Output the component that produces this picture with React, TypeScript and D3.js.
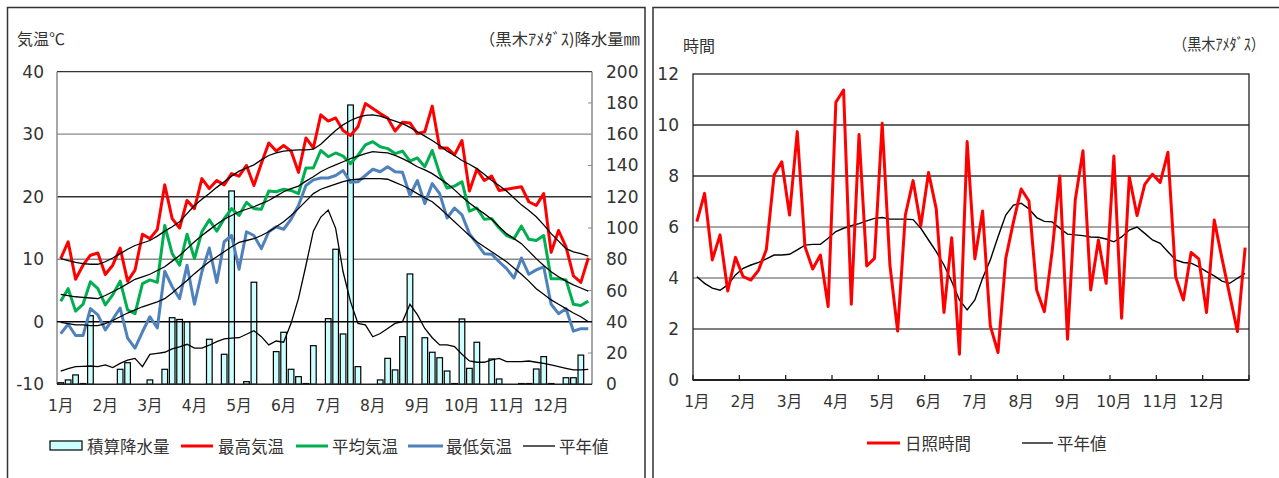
import React from "react";
import * as d3 from "d3";

const months = ["1月","2月","3月","4月","5月","6月","7月","8月","9月","10月","11月","12月"];
const pentads = d3.range(72);

const maxTemp = [10.1,12.8,6.8,9.05,10.65,11.0,7.56,9.05,11.8,6.5,8.25,14.0,13.3,14.75,21.9,16.5,15.0,19.4,18.1,22.9,21.3,22.6,21.9,23.7,23.3,25.0,21.8,25.3,28.6,27.3,28.2,27.3,23.9,29.4,27.8,33.1,32.1,32.6,30.6,29.8,31.2,34.9,34.1,33.3,32.6,30.5,31.9,31.8,30.1,30.4,34.5,27.8,27.8,26.7,29.0,20.9,24.4,22.6,23.3,21.0,21.2,21.4,21.6,19.2,18.6,20.5,11.1,14.6,12.0,7.35,6.3,10.2];
const meanTemp = [3.3,5.3,1.7,2.8,6.4,5.3,2.7,4.3,6.5,1.9,1.3,6.1,6.7,6.3,15.4,10.9,9.05,14.0,10.1,14.4,16.3,14.5,16.5,18.1,17.0,19.1,18.1,18.0,20.9,20.8,21.2,21.0,20.5,24.6,24.6,27.4,26.4,27.0,26.5,25.3,26.6,28.3,28.8,28.0,27.7,26.9,27.3,25.7,26.2,24.8,27.4,23.7,21.4,21.7,22.4,17.7,18.2,16.4,16.5,15.0,13.8,13.3,15.3,13.2,13.0,13.8,6.9,6.9,6.7,2.8,2.6,3.3];
const minTemp = [-1.9,-0.4,-2.2,-2.2,2.1,1.1,-1.3,0.4,2.2,-2.6,-4.2,-1.6,0.8,-1.0,8.1,5.6,3.7,9.05,2.8,8.0,11.8,6.3,12.8,13.8,8.4,14.4,13.8,11.7,14.4,15.2,14.8,16.4,18.6,21.8,22.7,23.0,23.0,23.4,24.2,22.3,22.4,23.4,24.4,24.0,24.8,24.0,23.9,20.2,22.6,18.9,22.1,20.5,16.6,18.2,17.1,14.1,12.5,10.9,10.8,9.6,8.5,7.0,10.2,7.6,8.3,8.8,2.8,1.3,2.1,-1.5,-1.1,-1.1];
const normalMax = [10.1,9.8,9.5,9.3,9.2,9.2,9.6,10.2,10.9,11.6,12.2,12.6,13.0,13.7,14.5,15.2,16.0,17.3,18.6,19.6,20.5,21.5,22.4,23.3,24.1,24.6,25.1,25.9,26.6,27.0,27.3,27.4,27.5,27.5,27.6,28.4,29.5,30.6,31.5,32.2,32.7,33.0,33.1,32.9,32.5,32.1,31.7,31.1,30.4,29.7,29.0,28.2,27.3,26.6,25.8,25.2,24.5,23.6,22.6,21.8,20.9,19.8,18.7,17.8,16.8,15.5,14.1,12.9,11.7,11.2,10.9,10.5];
const normalMean = [4.4,4.2,4.0,3.9,3.8,3.7,4.2,4.8,5.4,6.1,6.8,7.2,7.6,8.2,8.8,9.7,10.6,11.7,12.8,13.8,14.7,15.6,16.4,17.0,17.6,18.0,18.4,18.9,19.4,20.1,20.8,21.3,21.7,22.5,23.2,24.0,24.6,25.1,25.6,26.1,26.5,26.9,27.2,27.1,27.0,26.6,26.1,25.5,24.8,24.3,23.7,22.9,22.1,21.1,20.0,19.0,18.1,17.3,16.4,15.2,14.1,13.3,12.5,11.3,10.1,9.0,8.0,7.2,6.5,5.9,5.4,4.9];
const normalMin = [-0.1,-0.3,-0.5,-0.5,-0.6,-0.6,-0.3,0.2,0.8,1.4,1.9,2.4,2.8,3.2,3.7,4.6,5.6,6.6,7.7,8.7,9.6,10.4,11.2,12.0,12.7,13.0,13.3,13.8,14.4,15.2,16.0,17.0,18.1,19.3,20.5,21.2,21.6,22.0,22.4,22.7,22.8,22.9,22.9,22.9,22.8,22.3,21.8,21.2,20.5,19.8,19.2,18.2,17.1,16.0,14.9,13.8,12.8,12.0,11.2,10.4,9.6,8.6,7.6,6.5,5.3,4.4,3.5,2.8,2.1,1.4,0.8,0.0];
const precip = [1,2.8,6.0,0.5,43.9,0,0,0,9.6,13.8,0,0,2.8,0,9.6,42.6,41.5,40.1,0,0,28.8,0,19.2,123.7,0,1.7,65.3,0,0,20.9,33.3,9.6,4.9,0.5,24.7,0,42,86.4,32.2,178.7,11.3,0,0,2.8,16.6,9.2,30.5,70.6,0,29.8,20.5,17,8.5,0.5,41.8,10.2,26.9,0,16.2,3.4,0,0,0.5,0.5,9.8,17.7,0.5,0,4.2,4.2,18.7,0];
const normalPrecip = [8.5,10.0,11.3,11.5,11.7,11.3,12.4,10.7,13.4,15.5,16.6,11.3,19.2,19.8,20.5,22.6,24.0,25.6,23.1,23.1,25.0,27.3,29.0,29.5,29.8,32.0,34.3,30.5,25.2,27.7,26.9,39.0,55,76,98,107,111.5,99.8,72,52.9,39,38,30.4,32.5,35.7,39,40.1,51.2,44.6,35.7,29.8,25.2,25.2,24.1,19.2,14.9,14.1,14.1,15.6,16.6,14.5,14.5,14.5,14.9,14.1,13.4,12.4,11.3,10.2,9.2,9.2,9.6];
const sunshine = [6.21,7.32,4.71,5.69,3.49,4.81,4.05,3.92,4.31,5.12,8.04,8.56,6.47,9.74,5.23,4.35,4.9,2.88,10.89,11.37,2.97,9.63,4.47,4.77,10.07,4.51,1.92,6.47,7.82,6.05,8.14,6.71,2.65,5.58,1.01,9.35,4.75,6.63,2.12,1.08,4.77,6.2,7.49,7.02,3.53,2.68,5.03,8.0,1.6,7.06,8.99,3.53,5.49,3.79,8.78,2.42,7.97,6.45,7.67,8.07,7.75,8.93,4.05,3.14,5.0,4.75,2.65,6.27,4.77,3.33,1.9,5.19];
const normalSunshine = [4.05,3.79,3.6,3.52,3.73,4.12,4.38,4.51,4.61,4.75,4.9,4.9,4.93,5.1,5.29,5.32,5.32,5.56,5.82,5.95,6.05,6.13,6.24,6.34,6.37,6.31,6.31,6.31,6.29,5.95,5.49,5.03,4.51,3.86,3.14,2.75,3.14,3.99,4.71,5.62,6.47,6.86,6.93,6.71,6.37,6.22,6.2,5.95,5.72,5.69,5.66,5.61,5.6,5.53,5.42,5.61,5.88,6.0,5.75,5.49,5.36,5.03,4.71,4.61,4.58,4.44,4.25,4.08,3.88,3.79,3.99,4.18];

const tempTicks = [40, 30, 20, 10, 0, -10];
const precipTicks = [200, 180, 160, 140, 120, 100, 80, 60, 40, 20, 0];
const sunTicks = [12, 10, 8, 6, 4, 2, 0];

const FONT = "'Noto Sans CJK JP', 'Noto Sans', sans-serif";
const NUMFONT = "'DejaVu Sans', 'Noto Sans CJK JP', sans-serif";
const TXT = "#333";

export default function App() {
  // Left chart
  const L = { x0: 57, x1: 592, y0: 71.7, y1: 384.3 };
  const xL = d3.scaleBand<number>().domain(pentads).range([L.x0, L.x1]).padding(0);
  const cxL = (i: number) => (xL(i) as number) + xL.bandwidth() / 2;
  const yT = d3.scaleLinear().domain([-10, 40]).range([L.y1, L.y0]);
  const yP = d3.scaleLinear().domain([0, 200]).range([L.y1, L.y0]);
  const lineT = (arr: number[]) =>
    d3.line<number>().x((_, i) => cxL(i)).y((d) => yT(d))(arr) as string;
  const lineP = d3.line<number>().x((_, i) => cxL(i)).y((d) => yP(d))(normalPrecip) as string;
  const barW = xL.bandwidth() * 0.76;

  // Right chart
  const R = { x0: 693, x1: 1249, y0: 74, y1: 380 };
  const xR = d3.scaleBand<number>().domain(pentads).range([R.x0, R.x1]).padding(0);
  const cxR = (i: number) => (xR(i) as number) + xR.bandwidth() / 2;
  const yS = d3.scaleLinear().domain([0, 12]).range([R.y1, R.y0]);
  const lineS = (arr: number[]) =>
    d3.line<number>().x((_, i) => cxR(i)).y((d) => yS(d))(arr) as string;

  const leftGridColor = (t: number) => (t === 30 || t === 10 ? "#8a8a8a" : "#333");
  const rightGridColor = (t: number) => (t === 6 || t === 4 ? "#8a8a8a" : t === 2 ? "#555" : "#333");

  return (
    <svg width={1279} height={478} style={{ position: "absolute", left: 0, top: 0, background: "#fff" }} fontFamily={FONT}>
      <rect x={0} y={0} width={1279} height={478} fill="#fff" />
      {/* panel borders */}
      <path d="M7.5,500 V7.5 H645 V500" fill="none" stroke="#333" strokeWidth={1.5} />
      <path d="M653,500 V7.5 H1300" fill="none" stroke="#333" strokeWidth={1.5} />

      {/* ===== Left chart ===== */}
      <text x={17} y={38} fontSize={16} fill={TXT} dominantBaseline="central">気温℃</text>
      <text x={479} y={38} fontSize={16} fill={TXT} dominantBaseline="central" textLength={161} lengthAdjust="spacingAndGlyphs">（黒木ｱﾒﾀﾞｽ)降水量㎜</text>

      {tempTicks.filter((t) => t !== 40 && t !== -10 && t !== 0).map((t) => (
        <line key={"g" + t} x1={L.x0} x2={L.x1} y1={yT(t)} y2={yT(t)} stroke={leftGridColor(t)} strokeWidth={1.3} />
      ))}
      {/* plot frame */}
      <line x1={L.x0} x2={L.x1} y1={L.y0} y2={L.y0} stroke="#333" strokeWidth={1.3} />
      <line x1={L.x0} x2={L.x0} y1={L.y0} y2={L.y1} stroke="#8a8a8a" strokeWidth={1.5} />
      <line x1={L.x1} x2={L.x1} y1={L.y0} y2={L.y1} stroke="#8a8a8a" strokeWidth={1.5} />
      {precipTicks.filter((p) => p % 40 !== 0).map((p) => (
        <line key={"pt" + p} x1={L.x1 - 4} x2={L.x1} y1={yP(p)} y2={yP(p)} stroke="#8a8a8a" strokeWidth={1} />
      ))}

      {/* precipitation bars */}
      {precip.map((v, i) =>
        v > 0 ? (
          <rect key={"b" + i} x={cxL(i) - barW / 2} y={yP(v)} width={barW} height={L.y1 - yP(v)}
            fill="#CCFFFF" stroke="#000" strokeWidth={1.2} />
        ) : null
      )}
      <line x1={L.x0} x2={L.x1} y1={yT(0)} y2={yT(0)} stroke="#000" strokeWidth={1.6} />
      <line x1={L.x0} x2={L.x1} y1={L.y1} y2={L.y1} stroke="#222" strokeWidth={1.6} />

      <path d={lineP} fill="none" stroke="#000" strokeWidth={1.3} />
      <path d={lineT(maxTemp)} fill="none" stroke="#FF0000" strokeWidth={3} strokeLinejoin="round" />
      <path d={lineT(meanTemp)} fill="none" stroke="#00B050" strokeWidth={3} strokeLinejoin="round" />
      <path d={lineT(minTemp)} fill="none" stroke="#4F81BD" strokeWidth={3} strokeLinejoin="round" />
      <path d={lineT(normalMax)} fill="none" stroke="#000" strokeWidth={1.3} />
      <path d={lineT(normalMean)} fill="none" stroke="#000" strokeWidth={1.3} />
      <path d={lineT(normalMin)} fill="none" stroke="#000" strokeWidth={1.3} />

      {tempTicks.map((t) => (
        <text key={"tl" + t} x={44} y={yT(t)} fontSize={17} fontFamily={NUMFONT} fill={TXT} textAnchor="end" dominantBaseline="central">{t}</text>
      ))}
      {precipTicks.map((p) => (
        <text key={"pl" + p} x={606} y={yP(p)} fontSize={17} fontFamily={NUMFONT} fill={TXT} dominantBaseline="central">{p}</text>
      ))}
      {months.map((m, k) => (
        <text key={"ml" + k} x={cxL(k * 6)} y={406} fontSize={15.5} fontFamily={NUMFONT} fill={TXT} textAnchor="middle" dominantBaseline="central">{m}</text>
      ))}

      {/* left legend */}
      <rect x={50} y={441} width={32} height={9} fill="#CCFFFF" stroke="#000" strokeWidth={1.2} />
      <text x={87} y={446} fontSize={16.5} fill={TXT} dominantBaseline="central">積算降水量</text>
      <line x1={181} x2={213} y1={446} y2={446} stroke="#FF0000" strokeWidth={3} />
      <text x={218} y={446} fontSize={16.5} fill={TXT} dominantBaseline="central">最高気温</text>
      <line x1={296} x2={328} y1={446} y2={446} stroke="#00B050" strokeWidth={3} />
      <text x={332} y={446} fontSize={16.5} fill={TXT} dominantBaseline="central">平均気温</text>
      <line x1={408} x2={443} y1={446} y2={446} stroke="#4F81BD" strokeWidth={3} />
      <text x={446} y={446} fontSize={16.5} fill={TXT} dominantBaseline="central">最低気温</text>
      <line x1={523} x2={555} y1={446} y2={446} stroke="#000" strokeWidth={1.3} />
      <text x={559} y={446} fontSize={16.5} fill={TXT} dominantBaseline="central">平年値</text>

      {/* ===== Right chart ===== */}
      <text x={683} y={45} fontSize={16} fill={TXT} dominantBaseline="central">時間</text>
      <text x={1173} y={43} fontSize={16} fill={TXT} dominantBaseline="central" textLength={92} lengthAdjust="spacingAndGlyphs">（黒木ｱﾒﾀﾞｽ）</text>

      {sunTicks.filter((t) => t !== 12 && t !== 0).map((t) => (
        <line key={"sg" + t} x1={R.x0} x2={R.x1} y1={yS(t)} y2={yS(t)} stroke={rightGridColor(t)} strokeWidth={1.3} />
      ))}
      <rect x={R.x0} y={R.y0} width={R.x1 - R.x0} height={R.y1 - R.y0} fill="none" stroke="#222" strokeWidth={1.3} />
      <line x1={R.x0} x2={R.x1} y1={R.y1} y2={R.y1} stroke="#222" strokeWidth={2} />
      {d3.range(13).map((k) => {
        const x = k < 12 ? (xR(k * 6) as number) : R.x1;
        return <line key={"st" + k} x1={x} x2={x} y1={R.y1 - 5} y2={R.y1} stroke="#222" strokeWidth={1.3} />;
      })}

      <path d={lineS(normalSunshine)} fill="none" stroke="#000" strokeWidth={1.4} />
      <path d={lineS(sunshine)} fill="none" stroke="#FF0000" strokeWidth={3} strokeLinejoin="round" />

      {sunTicks.map((t) => (
        <text key={"sl" + t} x={679} y={yS(t)} fontSize={17} fontFamily={NUMFONT} fill={TXT} textAnchor="end" dominantBaseline="central">{t}</text>
      ))}
      {months.map((m, k) => (
        <text key={"sm" + k} x={cxR(k * 6)} y={402} fontSize={15.5} fontFamily={NUMFONT} fill={TXT} textAnchor="middle" dominantBaseline="central">{m}</text>
      ))}

      <line x1={867} x2={900} y1={443} y2={443} stroke="#FF0000" strokeWidth={3} />
      <text x={905} y={443} fontSize={16.5} fill={TXT} dominantBaseline="central">日照時間</text>
      <line x1={1022} x2={1053} y1={443} y2={443} stroke="#000" strokeWidth={1.3} />
      <text x={1057} y={443} fontSize={16.5} fill={TXT} dominantBaseline="central">平年値</text>
    </svg>
  );
}
